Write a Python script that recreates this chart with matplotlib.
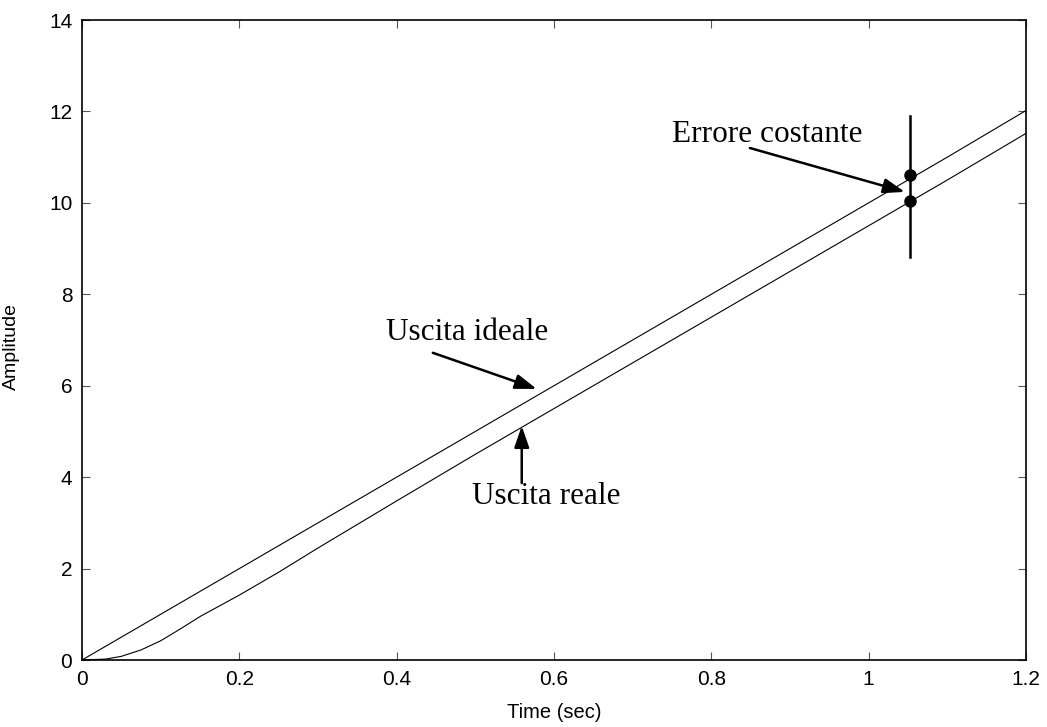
import matplotlib
matplotlib.use("Agg")
import matplotlib.pyplot as plt

# ideal output (reference ramp)
t_ideal = [0.0, 0.05, 0.1, 0.15, 0.2, 0.3, 0.4, 0.5, 0.6, 0.7, 0.8, 0.9, 1.0, 1.1, 1.2]
y_ideal = [0.0, 0.5, 1.0, 1.5, 2.0, 3.0, 4.0, 5.0, 6.0, 7.0, 8.0, 9.0, 10.0, 11.0, 12.02]

# real output (lagging response)
t_real = [0.0, 0.03, 0.05, 0.075, 0.1, 0.125, 0.15, 0.2, 0.25, 0.3, 0.4, 0.5, 0.6,
          0.7, 0.8, 0.9, 1.0, 1.1, 1.2]
y_real = [0.0, 0.02, 0.08, 0.22, 0.42, 0.68, 0.95, 1.42, 1.92, 2.45, 3.48, 4.5, 5.5,
          6.5, 7.5, 8.5, 9.5, 10.5, 11.52]

# constant error marker
t_err = 1.053
y_err_pts = [10.62, 10.05]
y_err_bar = [8.82, 11.9]

xticks = [0, 0.2, 0.4, 0.6, 0.8, 1.0, 1.2]
xticklabels = ["0", "0.2", "0.4", "0.6", "0.8", "1", "1.2"]
yticks = [0, 2, 4, 6, 8, 10, 12, 14]

fig = plt.figure(figsize=(10.47, 7.27), dpi=100)
ax = fig.add_axes([82 / 1047, 1 - 660 / 727, (1026 - 82) / 1047, (660 - 20) / 727])

ax.plot(t_ideal, y_ideal, color="black", lw=0.8)
ax.plot(t_real, y_real, color="black", lw=0.8)
ax.plot([t_err, t_err], y_err_bar, color="black", lw=1.8)
ax.plot([t_err, t_err], y_err_pts, "o", color="black", ms=8)

ax.set_xlim(0, 1.2)
ax.set_ylim(0, 14)
ax.set_xticks(xticks)
ax.set_xticklabels(xticklabels)
ax.set_yticks(yticks)
ax.tick_params(direction="in", top=True, right=True, labelsize=15, length=6, width=0.8,
               color="#555555", pad=7)
for lab in ax.get_xticklabels() + ax.get_yticklabels():
    lab.set_family("Liberation Sans")
for s in ax.spines.values():
    s.set_linewidth(1.2)

ax.set_xlabel("Time (sec)", family="Liberation Sans", fontsize=14.5, labelpad=10)
ax.set_ylabel("Amplitude", family="Liberation Sans", fontsize=14)
ax.yaxis.set_label_coords(-0.066, 0.49)

arrow = dict(arrowstyle="-|>,head_length=1.3,head_width=0.45", color="black", lw=1.8,
             shrinkA=0, shrinkB=0)
txt = dict(family="Liberation Serif", fontsize=22.5, ha="center", va="center")

ax.annotate("", xy=(1.046, 10.24), xytext=(0.849, 11.2), arrowprops=arrow)
ax.text(0.871, 11.49, "Errore costante", **txt)

ax.annotate("", xy=(0.578, 5.93), xytext=(0.446, 6.72), arrowprops=arrow)
ax.text(0.489, 7.16, "Uscita ideale", **txt)

ax.annotate("", xy=(0.559, 5.12), xytext=(0.559, 3.87), arrowprops=arrow)
ax.text(0.59, 3.57, "Uscita reale", **txt)

fig.savefig("out.png", dpi=100)
